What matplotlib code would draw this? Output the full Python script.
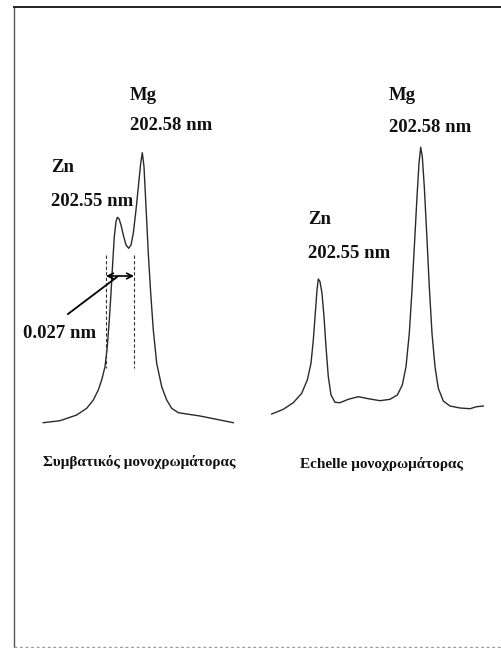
import matplotlib
matplotlib.use("Agg")
import matplotlib.pyplot as plt

# spectra (x position, y position; image y grows downward)
conv_x = [43.3, 60, 76.7, 86.7, 93.3, 98.3, 101.7, 105, 107.3, 109.3, 111, 112.7, 114.3,
          116, 117.3, 119, 121, 123.3, 126, 128.7, 131, 133.3, 136, 138.7, 140.7, 142.3,
          144, 146, 148.3, 150.7, 153.3, 156.7, 161.7, 166.7, 171.7, 178.3, 200, 233.3]
conv_y = [422.7, 420.7, 415, 408.3, 400, 390, 380, 366.7, 346.7, 320, 293, 263, 236.7,
          221.7, 217.3, 218.7, 225, 235, 245, 248.3, 245, 233.3, 210, 183.3, 163.3, 152.7,
          166.7, 206.7, 253.3, 293.3, 330, 363.3, 386.7, 400, 408.3, 412.7, 416, 422.7]

ech_x = [271.7, 283.3, 293.3, 301.7, 307.3, 311, 313.3, 315.3, 317, 318.3, 320, 322, 324,
         326, 328.3, 331, 335, 340, 348.3, 358.3, 368.3, 380, 390, 397.3, 402.3, 406,
         409.3, 412, 414.7, 417, 419, 420.7, 422.3, 424.3, 426.7, 429.3, 432, 435, 438.3,
         443.3, 450, 460, 470, 476.7, 483.3]
ech_y = [414, 409.3, 402.7, 393.3, 380, 363.3, 340, 313.3, 290, 279, 281.7, 293.3, 316.7,
         346.7, 376.7, 395, 402.3, 402.7, 399.3, 396.7, 398.7, 400.7, 399.3, 395, 385, 366.7,
         333.3, 290, 240, 196.7, 163.3, 147.3, 156.7, 186.7, 233.3, 286.7, 333.3, 366.7, 388.3,
         401, 406, 408, 408.7, 406.7, 406]

# peak labels: (text, x, y)
labels = [("Mg", 130, 95), ("202.58 nm", 130, 126),
          ("Zn", 51, 168), ("202.55 nm", 51, 201),
          ("0.027 nm", 23, 333),
          ("Zn", 308, 220), ("202.55 nm", 308, 253),
          ("Mg", 389, 95), ("202.58 nm", 389, 127)]
captions = [("Συμβατικός μονοχρωμάτορας", 139.5, 462),
            ("Echelle μονοχρωμάτορας", 382, 464)]

# resolution marker
sep_left, sep_right = 106, 134

plt.rcParams['font.family'] = ['Liberation Serif', 'DejaVu Serif']

fig = plt.figure(figsize=(5.01, 6.48), dpi=100)
ax = fig.add_axes([0, 0, 1, 1])
ax.set_xlim(0, 501)
ax.set_ylim(648, 0)
ax.axis('off')

# frame of the scanned page
ax.plot([14, 14], [7, 648], color='#555555', lw=1.0)
ax.plot([14, 501], [6.5, 6.5], color='#222222', lw=1.4)
ax.plot([14, 501], [646.5, 646.5], color='#9a9a9a', lw=1.0, linestyle=(0, (2, 2)))

ax.plot(conv_x, conv_y, color='#2a2a2a', lw=1.0)
ax.plot(ech_x, ech_y, color='#2a2a2a', lw=1.0)

for xv in (sep_left, sep_right):
    ax.plot([xv, xv], [255, 368], color='#333333', lw=0.8, linestyle=(0, (3, 2)))
ax.annotate('', xy=(sep_left, 276), xytext=(sep_right, 276),
            arrowprops=dict(arrowstyle='<->', color='black', lw=1.2,
                            shrinkA=0, shrinkB=0, mutation_scale=10))
ax.plot([68, 117], [314, 277], color='black', lw=1.3)

for txt, x, y in labels:
    ax.text(x, y, txt, fontsize=13.5, fontweight='bold', ha='left', va='center',
            color='#111111')
for txt, x, y in captions:
    ax.text(x, y, txt, fontsize=11, fontweight='bold', ha='center', va='center',
            color='#111111')

fig.savefig('out.png', dpi=100)
